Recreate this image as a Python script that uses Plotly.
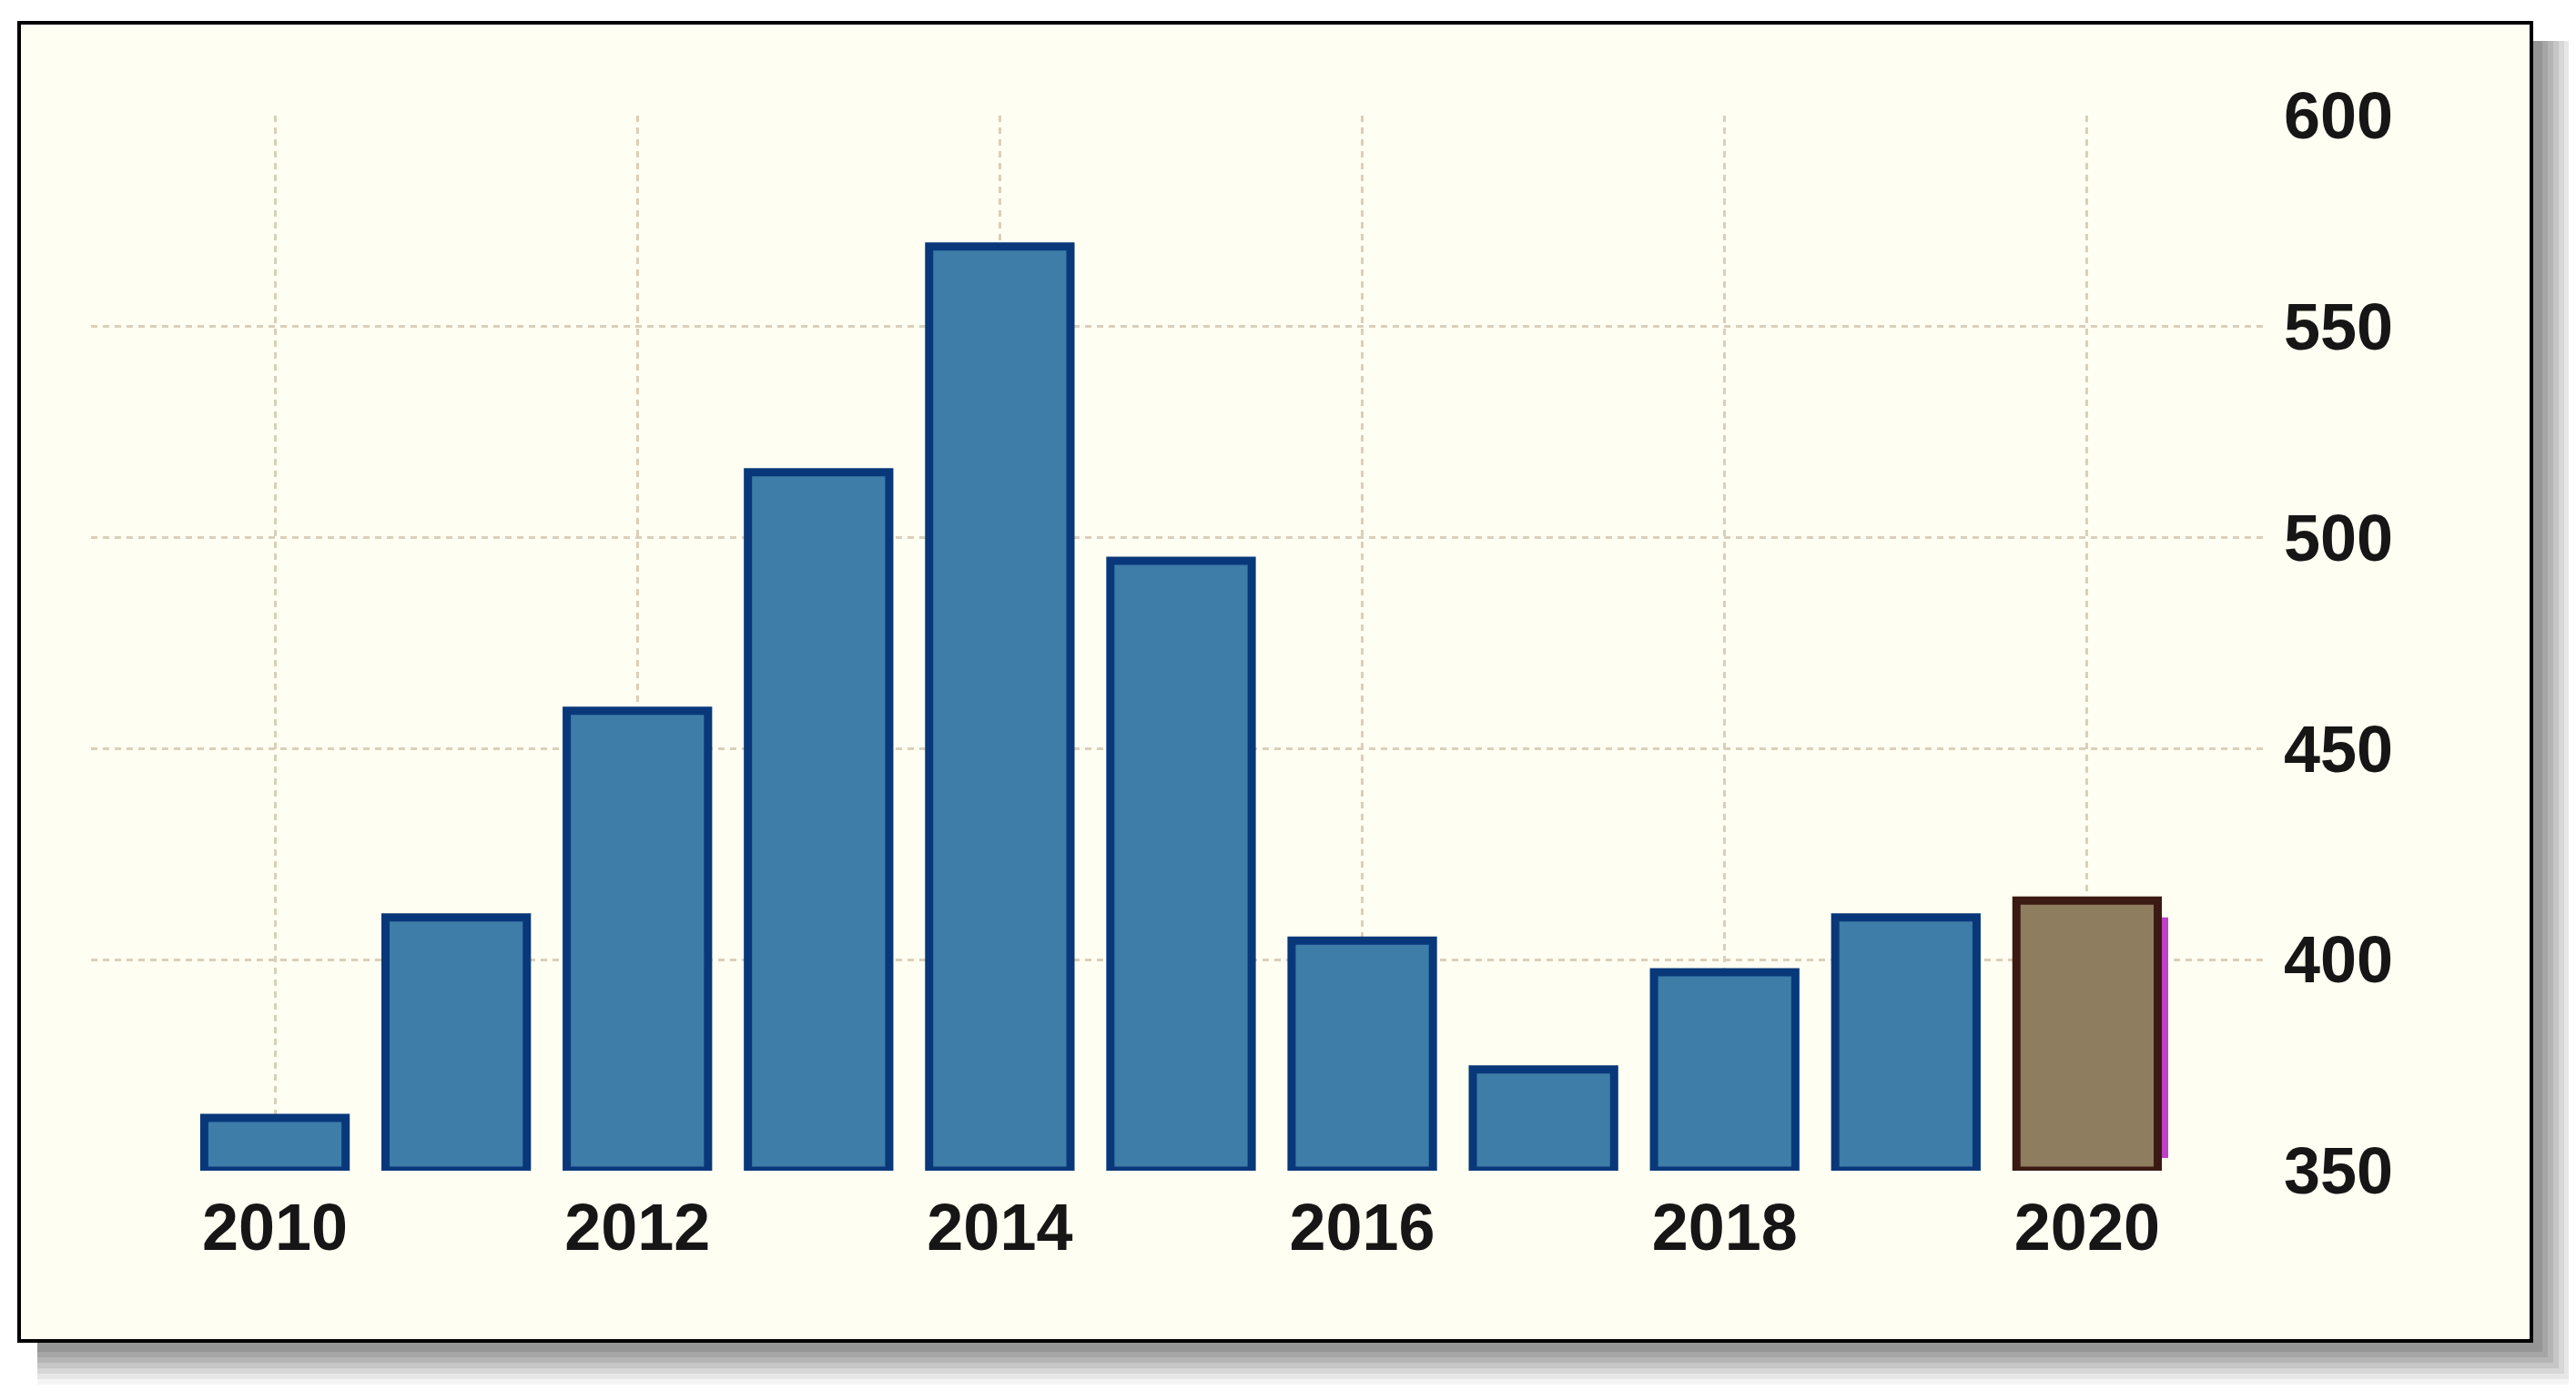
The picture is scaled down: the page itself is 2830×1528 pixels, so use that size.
import plotly.graph_objects as go

years = [2010, 2011, 2012, 2013, 2014, 2015, 2016, 2017, 2018, 2019, 2020]
values = [362.5, 410, 459, 515.5, 569, 494.5, 404.5, 374, 397, 410, 414]
y_ticks = [350, 400, 450, 500, 550, 600]
x_ticks = [2010, 2012, 2014, 2016, 2018, 2020]

# forecast marker next to the last bar
marker_x = [years[-1] + 0.43, years[-1] + 0.43]
marker_y = [353, values[-1] - 4]

W, H = 2830, 1528
L, R, T, B = 92, 352, 119, 250
pw, ph = W - L - R, H - T - B


def px(x, y):
    # pixel -> paper coordinates
    return (x - L) / pw, 1 - (y - T) / ph


blue, blue_edge = "#3d7da8", "#08387a"
brown, brown_edge = "#8f7d60", "#3a1a12"
fill = [blue] * (len(years) - 1) + [brown]
edge = [blue_edge] * (len(years) - 1) + [brown_edge]

fig = go.Figure()
fig.add_trace(go.Bar(
    x=years, y=[v - y_ticks[0] for v in values], base=y_ticks[0],
    width=0.78,
    marker=dict(color=fill, line=dict(color=edge, width=9)),
    hoverinfo="skip",
))
fig.add_trace(go.Scatter(
    x=marker_x, y=marker_y, mode="lines",
    line=dict(color="#c040c8", width=7), hoverinfo="skip",
))

shapes = []
# drop shadow
fl, ft, fr, fb = 13, 17, 2773, 1465
for d, op in [(48, 0.06), (42, 0.08), (36, 0.1), (30, 0.12), (24, 0.14), (18, 0.16), (12, 0.18)]:
    x0, y0 = px(fl + 20, ft + 20)
    x1, y1 = px(fr + d, fb + d)
    shapes.append(dict(type="rect", xref="paper", yref="paper", x0=x0, y0=y0, x1=x1, y1=y1,
                       fillcolor=f"rgba(80,80,80,{op})", line=dict(width=0), layer="below"))
x0, y0 = px(fl, ft)
x1, y1 = px(fr, fb)
shapes.append(dict(type="rect", xref="paper", yref="paper", x0=x0, y0=y0, x1=x1, y1=y1,
                   fillcolor="#fffef2", line=dict(color="#000000", width=4), layer="below"))

font = dict(family="Liberation Sans, Arial, sans-serif", size=72, color="#161616", weight="bold")
grid = dict(showgrid=True, gridcolor="#dacfba", gridwidth=3, griddash="7px,6px",
            zeroline=False, showline=False, ticks="", tickfont=font)

fig.update_layout(
    width=W, height=H,
    margin=dict(l=L, r=R, t=T, b=B),
    paper_bgcolor="#ffffff", plot_bgcolor="rgba(0,0,0,0)",
    showlegend=False, shapes=shapes,
    xaxis=dict(range=[2008.985, 2020.97], tickvals=x_ticks, ticklabelstandoff=14, **grid),
    yaxis=dict(range=[350, 600], tickvals=y_ticks, side="right", ticklabelstandoff=22, **grid),
)

fig.write_html("out.html")
